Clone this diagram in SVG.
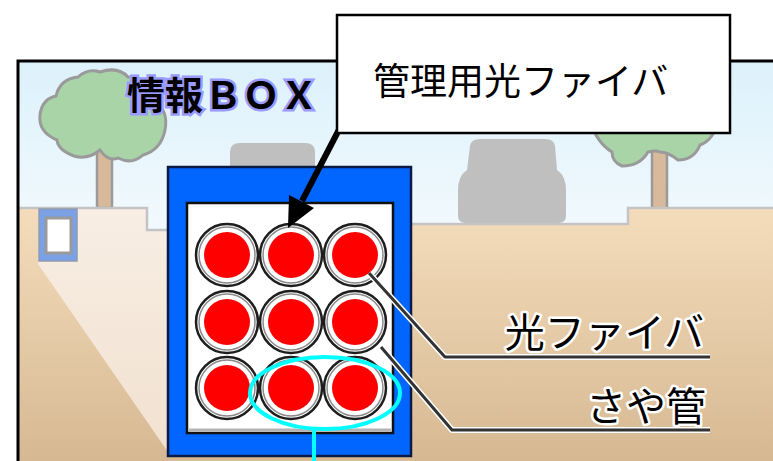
<svg xmlns="http://www.w3.org/2000/svg" width="773" height="461" viewBox="0 0 773 461">
  <style>
    .jp { font-family: "Noto Sans CJK JP", "Noto Sans", sans-serif; }
    .label { font-size: 40px; fill: #000; stroke: #fff; stroke-width: 5px; paint-order: stroke; stroke-linejoin: round; text-anchor: end; }
    .title { font-size: 38px; font-weight: 700; fill: #000; stroke: #9a9aff; stroke-width: 5px; paint-order: stroke; stroke-linejoin: miter; }
    .ring { fill: #fff; stroke: #1e1e1e; stroke-width: 2.5; }
    .ring2 { fill: none; stroke: #8a8a8a; stroke-width: 1.5; }
    .core { fill: #ff0000; }
    .halo { fill: none; stroke: #fff; stroke-width: 6; stroke-linejoin: round; }
    .lead { fill: none; stroke: #333; stroke-width: 3; stroke-linejoin: round; }
    .tree { fill: #a9d4a8; stroke: #9a9a9a; stroke-width: 3; }
    .trunk { fill: #d8b99c; stroke: #9a9a9a; stroke-width: 2.5; }
    .car { fill: #bfbfbf; }
  </style>
  <defs>
    <linearGradient id="sky" x1="0" y1="0" x2="0" y2="1">
      <stop offset="0" stop-color="#dcf1fb"/>
      <stop offset="0.5" stop-color="#f6fbfe"/>
      <stop offset="1" stop-color="#ffffff"/>
    </linearGradient>
    <linearGradient id="soil" x1="0" y1="0" x2="0" y2="1">
      <stop offset="0" stop-color="#f4dcbb"/>
      <stop offset="1" stop-color="#d6b993"/>
    </linearGradient>
    <linearGradient id="cream" x1="0" y1="0" x2="0" y2="1">
      <stop offset="0" stop-color="#f8eee4"/>
      <stop offset="1" stop-color="#f1e1d0"/>
    </linearGradient>
  </defs>

  <rect width="773" height="461" fill="#fff"/>

  <!-- street scene backdrop -->
  <g id="scene">
    <rect x="18" y="61" width="755" height="400" fill="url(#sky)"/>
    <!-- left tree -->
    <rect class="trunk" x="97" y="140" width="15" height="68"/>
    <path class="tree" d="M100,72 Q118,66 128,77 Q150,77 153,100 Q169,110 165,130 Q161,150 143,155 Q132,165 118,158 Q108,162 100,150 Q88,160 74,156 Q58,150 57,140 Q38,132 40,115 Q42,99 56,96 Q60,79 78,77 Q88,68 100,72 Z"/>
    <!-- right tree -->
    <rect class="trunk" x="652" y="140" width="15" height="70"/>
    <path class="tree" d="M590,120 L718,120 Q714,140 700,145 Q694,160 678,160 Q668,152 660,152 Q656,150 648,152 Q640,166 622,166 Q612,162 612,152 Q596,142 590,120 Z"/>
    <!-- parked cars -->
    <path class="car" d="M230,170 L230,152 Q230,143 240,143 L305,143 Q315,143 315,152 L315,170 Z"/>
    <path class="car" d="M470,146 Q471,139 480,139 L545,139 Q554,139 555,146 L557,170 Q566,176 566,190 L566,216 Q566,223 558,223 L466,223 Q458,223 458,216 L458,190 Q458,176 467,170 Z"/>
    <!-- ground -->
    <path d="M18,208 L147,208 L147,230 L412,230 L412,224 L628,224 L628,208 L773,208 L773,461 L18,461 Z" fill="url(#soil)"/>
    <path d="M38,208 L147,208 L147,230 L168,230 L168,452 L38,264 Z" fill="url(#cream)"/>
    <path d="M18,208 L147,208 L147,230 L168,230 M412,224 L628,224 L628,208 L773,208" fill="none" stroke="#c4c4c4" stroke-width="2.5"/>
    <!-- small window -->
    <rect x="39" y="209" width="38" height="52" fill="#7aa0e6" stroke="#8e9bb0" stroke-width="1.5"/>
    <rect x="46" y="218" width="25" height="35" fill="#fff" stroke="#9a9a9a" stroke-width="3"/>
    <!-- heading -->
    <text class="jp title" x="127 165 204 242 280" y="109">情報ＢＯＸ</text>
  </g>

  <!-- utility box with conduits -->
  <g id="info-box">
    <rect x="168" y="167" width="243" height="289" fill="#0066ff" stroke="#0b1a44" stroke-width="2.5"/>
    <rect x="187" y="203" width="206" height="230" fill="#fff" stroke="#111" stroke-width="2.5"/>
    <line x1="189" y1="430" x2="391" y2="430" stroke="#b4b4b4" stroke-width="3"/>
    <g id="conduits">
      <g transform="translate(227,255)"><circle class="ring" r="31"/><circle class="ring2" r="28"/><circle class="core" r="23"/></g>
      <g transform="translate(291,255)"><circle class="ring" r="31"/><circle class="ring2" r="28"/><circle class="core" r="23"/></g>
      <g transform="translate(355,255)"><circle class="ring" r="31"/><circle class="ring2" r="28"/><circle class="core" r="23"/></g>
      <g transform="translate(227,322)"><circle class="ring" r="31"/><circle class="ring2" r="28"/><circle class="core" r="23"/></g>
      <g transform="translate(291,322)"><circle class="ring" r="31"/><circle class="ring2" r="28"/><circle class="core" r="23"/></g>
      <g transform="translate(355,322)"><circle class="ring" r="31"/><circle class="ring2" r="28"/><circle class="core" r="23"/></g>
      <g transform="translate(227,388)"><circle class="ring" r="31"/><circle class="ring2" r="28"/><circle class="core" r="23"/></g>
      <g transform="translate(291,388)"><circle class="ring" r="31"/><circle class="ring2" r="28"/><circle class="core" r="23"/></g>
      <g transform="translate(355,388)"><circle class="ring" r="31"/><circle class="ring2" r="28"/><circle class="core" r="23"/></g>
    </g>
  </g>

  <!-- leaders, highlight and pointer -->
  <g id="connectors">
    <path class="halo" d="M369,273 L445,357 L710,357"/>
    <path class="lead" d="M369,273 L445,357 L710,357"/>
    <path class="halo" d="M381,347 L452,430 L710,430"/>
    <path class="lead" d="M381,347 L452,430 L710,430"/>
    <ellipse cx="325" cy="393" rx="75" ry="36" fill="none" stroke="#00ffff" stroke-width="4"/>
    <line x1="314" y1="428" x2="314" y2="461" stroke="#00ffff" stroke-width="4"/>
    <line x1="345" y1="118" x2="302" y2="201" stroke="#000" stroke-width="6"/>
    <polygon points="288,228 314,208 289,195" fill="#000"/>
  </g>

  <g id="label-fiber">
    <text class="jp label" x="704" y="347">光ファイバ</text>
  </g>
  <g id="label-sheath">
    <text class="jp label" x="706" y="421">さや管</text>
  </g>

  <!-- frame -->
  <path d="M18,461 L18,61 L773,61" fill="none" stroke="#000" stroke-width="3"/>

  <g id="callout">
    <rect x="337" y="15" width="393" height="118" fill="#fff" stroke="#000" stroke-width="2.5"/>
    <text class="jp" x="373" y="95" font-size="37" fill="#000">管理用光ファイバ</text>
  </g>
</svg>
